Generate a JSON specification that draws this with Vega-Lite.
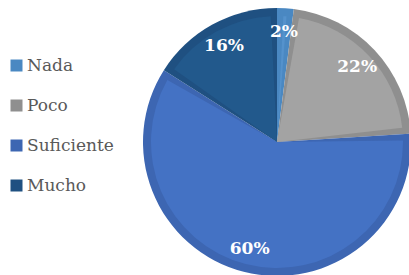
{
  "$schema": "https://vega.github.io/schema/vega-lite/v6.json",
  "width": 264,
  "height": 268,
  "autosize": {"type": "none"},
  "padding": {"left": 145, "top": 8, "right": 0, "bottom": 0},
  "background": "white",
  "data": {"values": [
    {"categoria": "Nada", "porcentaje": 2, "orden": 1, "etiqueta": "2%"},
    {"categoria": "Poco", "porcentaje": 22, "orden": 2, "etiqueta": "22%"},
    {"categoria": "Suficiente", "porcentaje": 60, "orden": 3, "etiqueta": "60%"},
    {"categoria": "Mucho", "porcentaje": 16, "orden": 4, "etiqueta": "16%"}
  ]},
  "encoding": {
    "theta": {"field": "porcentaje", "type": "quantitative", "stack": true},
    "order": {"field": "orden", "type": "quantitative"}
  },
  "layer": [
    {
      "mark": {"type": "arc", "radius": 134},
      "encoding": {
        "color": {
          "field": "categoria", "type": "nominal",
          "scale": {"domain": ["Nada", "Poco", "Suficiente", "Mucho"], "range": ["#4A88C2", "#8F8F8F", "#3D66B2", "#1F5081"]},
          "legend": {
            "orient": "none", "legendX": -137, "legendY": 49, "title": null,
            "symbolType": "square", "symbolSize": 144, "symbolStrokeWidth": 0,
            "labelFont": "DejaVu Serif", "labelFontSize": 17, "labelColor": "#595959",
            "rowPadding": 22, "labelOffset": 2
          }
        }
      }
    },
    {
      "mark": {"type": "arc", "radius": 126, "padAngle": 0.1},
      "encoding": {
        "fill": {
          "field": "categoria", "type": "nominal",
          "scale": {"domain": ["Nada", "Poco", "Suficiente", "Mucho"], "range": ["#5592CC", "#A3A3A3", "#4472C4", "#22598C"]},
          "legend": null
        }
      }
    },
    {
      "mark": {"type": "text", "radius": 110, "font": "DejaVu Serif", "fontSize": 17, "fontWeight": "bold", "fill": "white"},
      "encoding": {"text": {"field": "etiqueta", "type": "nominal"}}
    }
  ],
  "config": {"view": {"stroke": null}}
}
